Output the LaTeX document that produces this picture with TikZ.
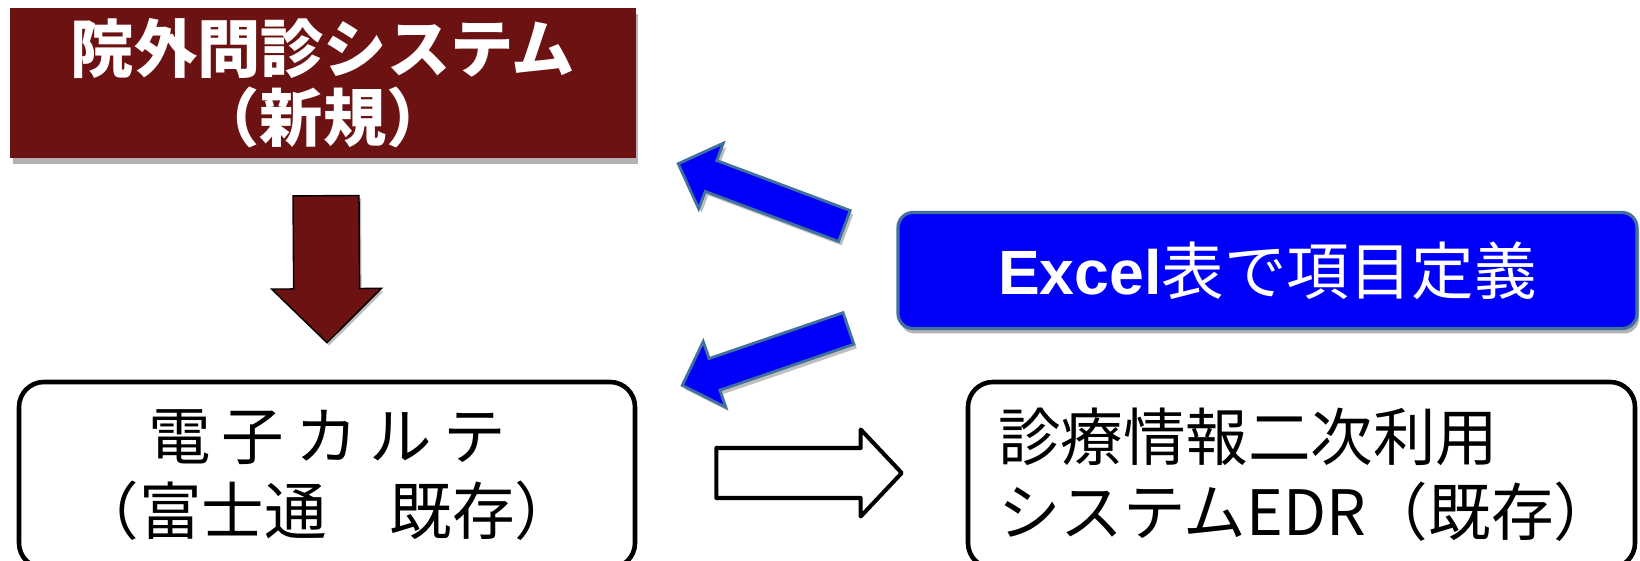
\documentclass[tikz,border=0pt]{standalone}
\usepackage{fontspec}
\newfontfamily\jpfont{Noto Sans CJK JP}
\newfontfamily\latinfont{Liberation Sans}
\usetikzlibrary{positioning,calc,shadows}

\definecolor{maroonbox}{RGB}{108,18,18}
\definecolor{excelblue}{RGB}{0,0,250}
\definecolor{excelline}{RGB}{65,113,156}

\tikzset{
  newbox/.style={fill=maroonbox, text=white, align=center, inner sep=0pt,
    font=\jpfont\bfseries\fontsize{18}{19.8}\selectfont,
    drop shadow={shadow xshift=0.02cm, shadow yshift=-0.06cm, opacity=0.3, fill=black}},
  sysbox/.style={draw=black, line width=1.3pt, rounded corners=0.25cm, fill=white,
    font=\jpfont\fontsize{17.8}{21.3}\selectfont},
  defbox/.style={fill=excelblue, draw=excelline, line width=0.9pt, rounded corners=0.15cm,
    text=white, font=\jpfont\fontsize{17.8}{20}\selectfont,
    drop shadow={shadow xshift=0.02cm, shadow yshift=-0.05cm, opacity=0.3, fill=black}},
  downarrow/.style={fill=maroonbox,
    drop shadow={shadow xshift=0.02cm, shadow yshift=-0.03cm, opacity=0.25, fill=black}},
  defarrow/.style={fill=excelblue, draw=excelline, line width=0.8pt,
    drop shadow={shadow xshift=0.03cm, shadow yshift=-0.04cm, opacity=0.25, fill=black}},
  flowarrow/.style={draw=black, fill=white, line width=1.15pt, line join=round},
}

% block arrow: [style]{tail}{tip}{shaft half width}{head half width}{head length}
\newcommand{\blockarrow}[6][]{%
  \path ($(#3)!#6!(#2)$) coordinate (ba base);
  \draw[#1] ($(#2)!#4!90:(#3)$) -- ($(ba base)!#4!-90:(#2)$) -- ($(ba base)!#5!-90:(#2)$)
    -- (#3) -- ($(ba base)!#5!90:(#2)$) -- ($(ba base)!#4!90:(#2)$) -- ($(#2)!#4!-90:(#3)$) -- cycle;
}

\begin{document}
\begin{tikzpicture}
  \useasboundingbox (0,0) rectangle (16.4,5.61);
  \clip (0,0) rectangle (16.4,5.61);

  % boxes
  \node[newbox, minimum width=6.25cm, minimum height=1.50cm] (inquiry) at (3.23,4.78)
    {院外問診システム\\（新規）};
  \node[sysbox, minimum width=6.16cm, minimum height=1.86cm, align=center] (ehr) at (3.27,0.86)
    {{\addfontfeature{LetterSpace=18}電子カルテ}\\（富士通　既存）};
  \node[sysbox, text width=6.07cm, inner xsep=0.3cm, minimum height=1.86cm, align=left] (edr) at (13.015,0.86)
    {診療情報二次利用\\システムEDR（既存）};
  \node[defbox, minimum width=7.39cm, minimum height=1.16cm] (excel) at (12.675,2.905)
    {{\latinfont\bfseries Excel}表で項目定義};

  % arrow ends
  \coordinate (down tail) at ($(inquiry.south)+(0.03,-0.37)$);
  \coordinate (down tip) at ($(ehr.north)+(0,0.37)$);
  \coordinate (up tail) at ($(excel.west)+(-0.52,0.445)$);
  \coordinate (up tip) at ($(inquiry.south east)+(0.42,-0.05)$);
  \coordinate (low tail) at ($(excel.west)+(-0.48,-0.58)$);
  \coordinate (low tip) at ($(ehr.north east)+(0.45,-0.057)$);
  \coordinate (flow tail) at ($(ehr.east)+(0.79,0.02)$);
  \coordinate (flow tip) at ($(edr.west)+(-0.64,0.02)$);

  % arrows
  \blockarrow[downarrow]{down tail}{down tip}{0.33cm}{0.55cm}{0.54cm}
  \blockarrow[defarrow]{up tail}{up tip}{0.165cm}{0.35cm}{0.35cm}
  \blockarrow[defarrow]{low tail}{low tip}{0.167cm}{0.347cm}{0.34cm}
  \blockarrow[flowarrow]{flow tail}{flow tip}{0.25cm}{0.435cm}{0.41cm}
\end{tikzpicture}
\end{document}
